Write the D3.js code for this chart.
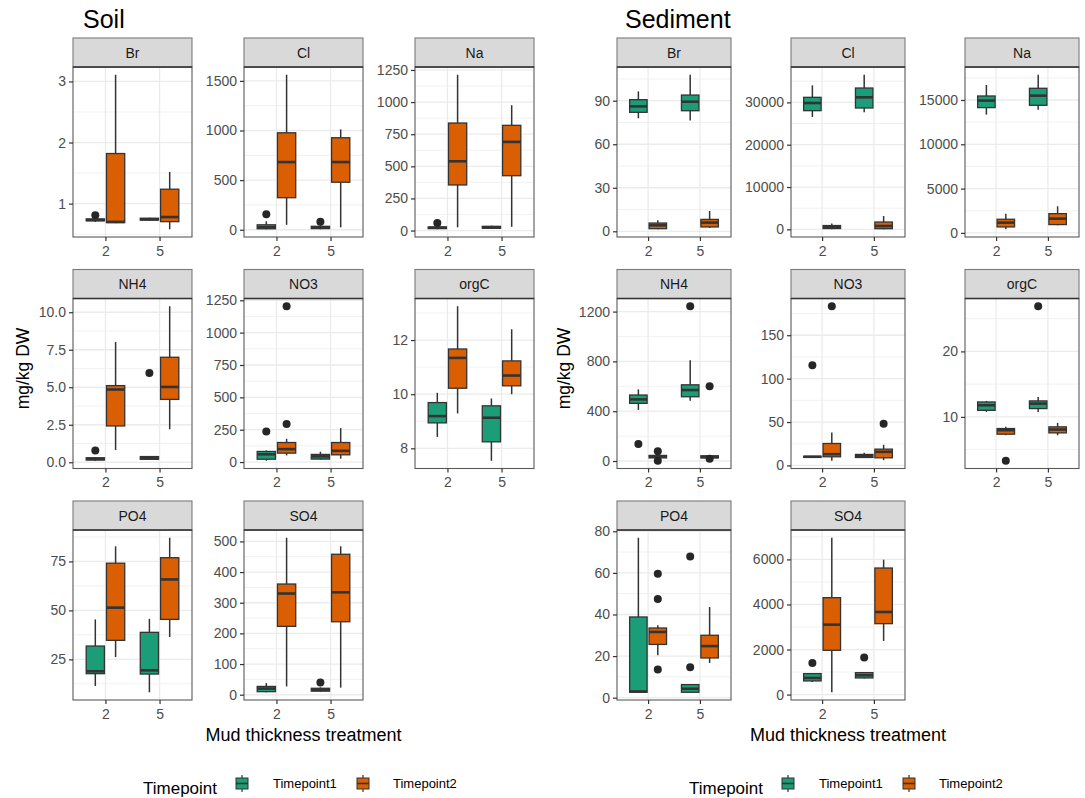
<!DOCTYPE html>
<html>
<head>
<meta charset="utf-8">
<script src="https://cdn.jsdelivr.net/npm/d3@7"></script>
<style>
  body { margin: 0; background: #ffffff; }
  svg { display: block; }
  text { font-family: "Liberation Sans", Arial, sans-serif; }
</style>
</head>
<body>
<svg id="chart" width="1085" height="798"></svg>
<script>
// ---- categories ----
const nutrients = ["Br", "Cl", "Na", "NH4", "NO3", "orgC", "PO4", "SO4"];
const thickness = ["2", "5"];
const timepoints = ["Timepoint1", "Timepoint2"];
const timepointColors = ["#1B9E77", "#D95F02"];

// ---- box summaries ----
// order of boxes: [2 / Timepoint1, 2 / Timepoint2, 5 / Timepoint1, 5 / Timepoint2]
// each box: [lower whisker, Q1, median, Q3, upper whisker]
const soilBr   = [[0.70, 0.72, 0.73, 0.75, 0.76], [0.68, 0.69, 0.70, 1.82, 3.11], [0.72, 0.73, 0.745, 0.76, 0.77], [0.58, 0.705, 0.78, 1.236, 1.52]];
const soilCl   = [[5, 10, 25, 50, 85], [50, 323, 682, 977, 1562], [5, 12, 22, 35, 45], [24, 479, 682, 927, 1011]];
const soilNa   = [[10, 15, 22, 28, 35], [25, 355, 539, 837, 1213], [12, 18, 25, 33, 38], [29, 427, 690, 819, 976]];
const soilNH4  = [[0.10, 0.15, 0.22, 0.30, 0.35], [0.81, 2.42, 4.85, 5.11, 8.02], [0.15, 0.20, 0.28, 0.38, 0.42], [2.2, 4.19, 5.02, 7.0, 10.4]];
const soilNO3  = [[10, 22, 60, 82, 90], [51, 69, 100, 151, 180], [18, 23, 44, 59, 80], [26, 56, 87, 151, 262]];
const soilOrgC = [[8.42, 8.94, 9.19, 9.69, 10.05], [9.29, 10.22, 11.34, 11.67, 13.25], [7.54, 8.24, 9.13, 9.57, 9.84], [10.0, 10.31, 10.69, 11.23, 12.4]];
const soilPO4  = [[11.4, 17.7, 18.9, 31.8, 45.4], [26.2, 34.7, 51.4, 74.1, 82.7], [8.2, 17.5, 19.4, 38.8, 45.7], [36.4, 45.4, 65.8, 76.9, 87.1]];
const soilSO4  = [[8, 10, 20, 27, 38], [27, 223, 330, 361, 512], [10, 12, 15, 21, 24], [23, 238, 334, 458, 484]];

const sedBr   = [[77.9, 82, 86.1, 90.7, 96.4], [1.4, 1.8, 4.1, 5.7, 7.6], [76.3, 83.1, 89.3, 93.9, 107.9], [2.3, 3.0, 6.0, 8.2, 14.0]];
const sedCl   = [[26550, 28040, 29850, 31190, 34010], [50, 200, 500, 900, 1410], [27650, 28670, 31190, 33390, 36530], [20, 160, 790, 1730, 3140]];
const sedNa   = [[13350, 14140, 14930, 15450, 16690], [410, 675, 1160, 1540, 2175], [13910, 14400, 15490, 16320, 17850], [860, 940, 1610, 2175, 3000]];
const sedNH4  = [[410, 463, 495, 530, 575], [15, 25, 37, 45, 60], [484, 516, 570, 612, 809], [15, 25, 32, 42, 48]];
const sedNO3  = [[9, 9.5, 10, 10.5, 11], [5.4, 10, 13, 25.3, 38], [9, 9.2, 10.7, 12.7, 14.6], [6.1, 8.8, 15.7, 18.8, 23.8]];
const sedOrgC = [[10.76, 11.0, 11.78, 12.28, 12.44], [7.2, 7.36, 7.97, 8.22, 8.48], [10.76, 11.27, 12.03, 12.44, 13.05], [7.2, 7.56, 8.07, 8.48, 9.09]];
const sedPO4  = [[2.6, 2.6, 3.0, 38.8, 76.9], [20.4, 25.6, 31.6, 33.5, 34.8], [2.6, 2.6, 4.3, 6.3, 6.3], [16.7, 19.1, 24.8, 30, 43.6]];
const sedSO4  = [[560, 606, 739, 931, 960], [103, 1966, 3104, 4302, 6962], [710, 739, 857, 975, 975], [2380, 3148, 3666, 5617, 5987]];

// ---- outliers (same box order) ----
const soilBrOut   = [[0.81], [], [], []];
const soilClOut   = [[156], [], [80], []];
const soilNaOut   = [[58], [], [], []];
const soilNH4Out  = [[0.78], [], [5.95], []];
const soilNO3Out  = [[236], [295, 1204], [], []];
const soilOrgCOut = [[], [], [], []];
const soilPO4Out  = [[], [], [], []];
const soilSO4Out  = [[], [], [40], []];

const sedBrOut   = [[], [], [], []];
const sedClOut   = [[], [], [], []];
const sedNaOut   = [[], [], [], []];
const sedNH4Out  = [[136], [78, 2], [1243], [601, 18]];
const sedNO3Out  = [[115.5], [183.4], [], [48]];
const sedOrgCOut = [[], [3.3], [26.9], []];
const sedPO4Out  = [[], [59.6, 47.4, 13.6], [67.9, 14.6], []];
const sedSO4Out  = [[1404], [], [1641], []];

// ---- y tick labels ----
const soilTicks = [[1, 2, 3], [0, 500, 1000, 1500], [0, 250, 500, 750, 1000, 1250], [0, 2.5, 5, 7.5, 10],
                   [0, 250, 500, 750, 1000, 1250], [8, 10, 12], [25, 50, 75], [0, 100, 200, 300, 400, 500]];
const sedTicks  = [[0, 30, 60, 90], [0, 10000, 20000, 30000], [0, 5000, 10000, 15000], [0, 400, 800, 1200],
                   [0, 50, 100, 150], [10, 20], [0, 20, 40, 60, 80], [0, 2000, 4000, 6000]];

// ---- text ----
const mediumTitles = ["Soil", "Sediment"];
const yTitle = "mg/kg DW";
const xTitle = "Mud thickness treatment";
const legendTitle = "Timepoint";

// tables assembled from the arrays above
const soilStats = [soilBr, soilCl, soilNa, soilNH4, soilNO3, soilOrgC, soilPO4, soilSO4];
const soilOuts  = [soilBrOut, soilClOut, soilNaOut, soilNH4Out, soilNO3Out, soilOrgCOut, soilPO4Out, soilSO4Out];
const sedStats  = [sedBr, sedCl, sedNa, sedNH4, sedNO3, sedOrgC, sedPO4, sedSO4];
const sedOuts   = [sedBrOut, sedClOut, sedNaOut, sedNH4Out, sedNO3Out, sedOrgCOut, sedPO4Out, sedSO4Out];

// ---- layout ----
const svg = d3.select("#chart");
const stripH = 29, bodyH = 170;
const rowTops = [38, 269.5, 501];
const blocks = [
  { title: mediumTitles[0], titleX: 83, cols: [73, 244, 415], w: 119, stats: soilStats, outs: soilOuts, ticks: soilTicks,
    yTitleX: 23, xTitleX: 303.5, legendX: 143 },
  { title: mediumTitles[1], titleX: 625, cols: [617, 791, 965], w: 114, stats: sedStats, outs: sedOuts, ticks: sedTicks,
    yTitleX: 564, xTitleX: 848, legendX: 689 }
];

const ink = "#333333", grid = "#EBEBEB", tickText = "#4D4D4D";

function fmtFor(ticks) {
  const dec = ticks.some(t => Math.round(t) !== t) ? 1 : 0;
  return d3.format("." + dec + "f");
}

function drawPanel(block, k) {
  const col = k % 3, row = Math.floor(k / 3);
  const x0 = block.cols[col], w = block.w;
  const top = rowTops[row], bodyTop = top + stripH, bodyBot = bodyTop + bodyH;
  const stats = block.stats[k], outs = block.outs[k], ticks = block.ticks[k];

  const allVals = stats.flat().concat(outs.flat());
  const lo = d3.min(allVals), hi = d3.max(allVals), pad = (hi - lo) * 0.05;
  const y = d3.scaleLinear().domain([lo - pad, hi + pad]).range([bodyBot, bodyTop]);
  const x = d3.scalePoint().domain(thickness).range([x0, x0 + w]).padding(0.6);
  const step = x.step();

  const g = svg.append("g");

  // panel background
  g.append("rect").attr("x", x0).attr("y", bodyTop).attr("width", w).attr("height", bodyH).attr("fill", "#fff");

  // minor grid
  const tStep = ticks[1] - ticks[0];
  const minors = [];
  for (let t = ticks[0] - tStep / 2; t <= hi + pad; t += tStep) if (t >= lo - pad) minors.push(t);
  g.selectAll(".minor").data(minors).join("line")
    .attr("x1", x0).attr("x2", x0 + w).attr("y1", d => y(d)).attr("y2", d => y(d))
    .attr("stroke", grid).attr("stroke-width", 0.7);
  // major grid
  g.selectAll(".major").data(ticks.filter(t => t >= lo - pad && t <= hi + pad)).join("line")
    .attr("x1", x0).attr("x2", x0 + w).attr("y1", d => y(d)).attr("y2", d => y(d))
    .attr("stroke", grid).attr("stroke-width", 1.3);
  g.selectAll(".vgrid").data(thickness).join("line")
    .attr("x1", d => x(d)).attr("x2", d => x(d)).attr("y1", bodyTop).attr("y2", bodyBot)
    .attr("stroke", grid).attr("stroke-width", 1.3);

  // boxes
  const boxW = 0.3375 * step, offs = 0.1875 * step;
  stats.forEach((s, i) => {
    const thk = thickness[Math.floor(i / 2)], tp = i % 2;
    const cx = x(thk) + (tp === 0 ? -offs : offs);
    const bg = g.append("g");
    bg.append("line").attr("x1", cx).attr("x2", cx).attr("y1", y(s[0])).attr("y2", y(s[1]))
      .attr("stroke", ink).attr("stroke-width", 1.5);
    bg.append("line").attr("x1", cx).attr("x2", cx).attr("y1", y(s[3])).attr("y2", y(s[4]))
      .attr("stroke", ink).attr("stroke-width", 1.5);
    bg.append("rect").attr("x", cx - boxW / 2).attr("width", boxW)
      .attr("y", y(s[3])).attr("height", Math.max(0, y(s[1]) - y(s[3])))
      .attr("fill", timepointColors[tp]).attr("stroke", ink).attr("stroke-width", 1.3);
    bg.append("line").attr("x1", cx - boxW / 2).attr("x2", cx + boxW / 2).attr("y1", y(s[2])).attr("y2", y(s[2]))
      .attr("stroke", ink).attr("stroke-width", 2.6);
    bg.selectAll("circle").data(outs[i]).join("circle")
      .attr("cx", cx).attr("cy", d => y(d)).attr("r", 4).attr("fill", "#262626");
  });

  // panel border
  g.append("rect").attr("x", x0).attr("y", bodyTop).attr("width", w).attr("height", bodyH)
    .attr("fill", "none").attr("stroke", "#5a5a5a").attr("stroke-width", 1.1);

  // strip
  g.append("rect").attr("x", x0).attr("y", top).attr("width", w).attr("height", stripH)
    .attr("fill", "#D9D9D9").attr("stroke", "#7a7a7a").attr("stroke-width", 1.1);
  g.append("line").attr("x1", x0).attr("x2", x0 + w).attr("y1", bodyTop).attr("y2", bodyTop)
    .attr("stroke", ink).attr("stroke-width", 1.7);
  g.append("text").attr("x", x0 + w / 2).attr("y", top + stripH / 2 + 5)
    .attr("text-anchor", "middle").attr("font-size", 14).attr("fill", "#1A1A1A").text(nutrients[k]);

  // axes
  const yAxis = d3.axisLeft(y).tickValues(ticks).tickFormat(fmtFor(ticks)).tickSize(4).tickPadding(3);
  const ya = g.append("g").attr("transform", `translate(${x0},0)`).call(yAxis);
  const xAxis = d3.axisBottom(x).tickSize(4).tickPadding(3);
  const xa = g.append("g").attr("transform", `translate(0,${bodyBot})`).call(xAxis);
  [ya, xa].forEach(a => {
    a.select(".domain").remove();
    a.selectAll(".tick line").attr("stroke", ink).attr("stroke-width", 1.2);
    a.selectAll(".tick text").attr("fill", tickText).attr("font-size", 14)
      .attr("font-family", '"Liberation Sans", Arial, sans-serif');
  });
  xa.selectAll(".tick text").attr("dy", "0.85em");
}

blocks.forEach(block => {
  nutrients.forEach((n, k) => drawPanel(block, k));

  // block title
  svg.append("text").attr("x", block.titleX).attr("y", 28)
    .attr("font-family", '"Open Sans", "Noto Sans", sans-serif').attr("font-size", 25).attr("fill", "#000")
    .text(block.title);

  // axis titles
  svg.append("text").attr("transform", `translate(${block.yTitleX},368.5) rotate(-90)`)
    .attr("text-anchor", "middle").attr("dy", "0.35em").attr("font-size", 17.5).attr("fill", "#000").text(yTitle);
  svg.append("text").attr("x", block.xTitleX).attr("y", 741)
    .attr("text-anchor", "middle").attr("font-size", 18).attr("fill", "#000").text(xTitle);

  // legend
  const lg = svg.append("g").attr("transform", `translate(${block.legendX},0)`);
  lg.append("text").attr("x", 0).attr("y", 794).attr("font-size", 17).attr("fill", "#000").text(legendTitle);
  const keyX = [93, 214], labX = [130, 250];
  timepoints.forEach((tp, i) => {
    const kx = keyX[i];
    lg.append("line").attr("x1", kx + 6).attr("x2", kx + 6).attr("y1", 775).attr("y2", 792)
      .attr("stroke", ink).attr("stroke-width", 1.2);
    lg.append("rect").attr("x", kx).attr("y", 778).attr("width", 12).attr("height", 11)
      .attr("fill", timepointColors[i]).attr("stroke", ink).attr("stroke-width", 1);
    lg.append("line").attr("x1", kx).attr("x2", kx + 12).attr("y1", 783.5).attr("y2", 783.5)
      .attr("stroke", ink).attr("stroke-width", 1.6);
    lg.append("text").attr("x", labX[i]).attr("y", 788).attr("font-size", 13).attr("fill", "#000").text(tp);
  });
});
</script>
</body>
</html>
